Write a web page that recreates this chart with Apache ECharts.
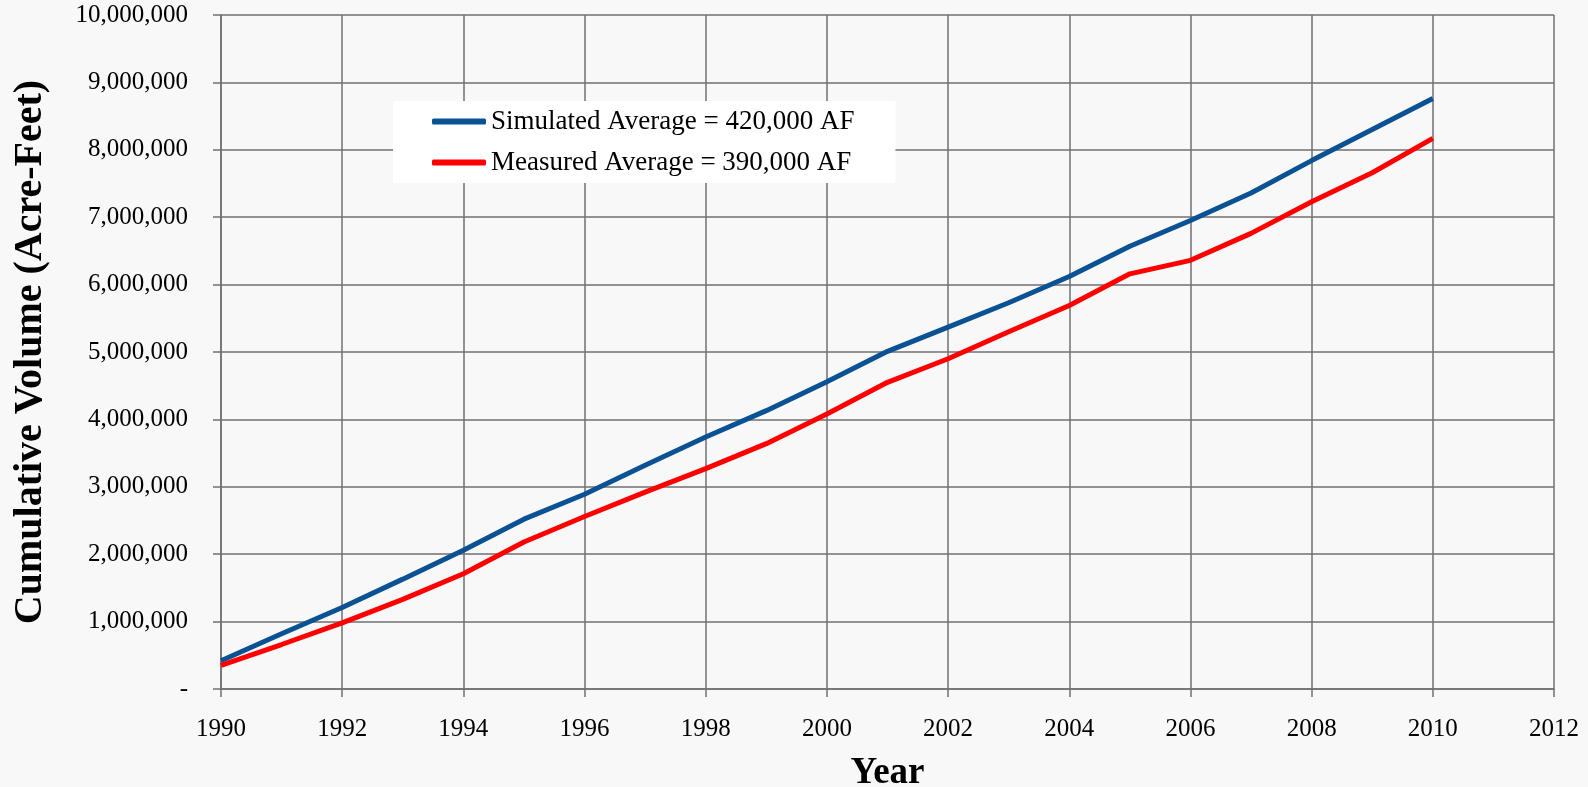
<!DOCTYPE html>
<html>
<head>
<meta charset="utf-8">
<script src="https://cdn.jsdelivr.net/npm/echarts@6/dist/echarts.min.js"></script>
<style>
html,body{margin:0;padding:0;background:#f8f8f8;}
#chart{width:1588px;height:787px;}
</style>
</head>
<body>
<div id="chart"></div>
<script>
// Data
var years = [1990,1991,1992,1993,1994,1995,1996,1997,1998,1999,2000,2001,2002,2003,2004,2005,2006,2007,2008,2009,2010];
var simulated = [420000,820000,1210000,1630000,2060000,2520000,2890000,3320000,3740000,4130000,4560000,5010000,5370000,5730000,6120000,6570000,6950000,7360000,7840000,8300000,8760000];
var measured = [350000,660000,980000,1330000,1710000,2180000,2560000,2920000,3270000,3640000,4080000,4550000,4900000,5300000,5690000,6160000,6360000,6760000,7230000,7660000,8170000];
var seriesNames = ['Simulated Average = 420,000 AF','Measured Average = 390,000 AF'];
var xTitle = 'Year';
var yTitle = 'Cumulative Volume (Acre-Feet)';

function pairs(xs, ys){ return xs.map(function(x,i){ return [x, ys[i]]; }); }

var gridColor = '#707070';
var font = '"Liberation Serif", "Times New Roman", serif';

var chart = echarts.init(document.getElementById('chart'), null, {renderer:'canvas'});
chart.setOption({
  backgroundColor: '#f8f8f8',
  animation: false,
  grid: {left: 221, right: 34, top: 15, bottom: 98, containLabel: false, outerBoundsMode: 'none'},
  legend: {
    orient: 'vertical',
    left: 393, top: 101,
    backgroundColor: '#ffffff',
    padding: [7, 41, 7, 39],
    itemWidth: 54, itemHeight: 6, itemGap: 14,
    icon: 'roundRect',
    textStyle: {fontFamily: font, fontSize: 27, color: '#000', lineHeight: 24},
    data: seriesNames
  },
  xAxis: {
    type: 'value', min: 1990, max: 2012, interval: 2,
    name: xTitle, nameLocation: 'middle', nameGap: 66,
    nameTextStyle: {fontFamily: font, fontSize: 37, fontWeight: 'bold', color: '#000'},
    axisLine: {show: true, onZero: false, lineStyle: {color: gridColor, width: 1.5}},
    axisTick: {show: true, length: 8, lineStyle: {color: gridColor, width: 1.5}},
    axisLabel: {fontFamily: font, fontSize: 25, color: '#000', margin: 28,
      formatter: function(v){ return String(v); }},
    splitLine: {show: true, lineStyle: {color: gridColor, width: 1.5}}
  },
  yAxis: {
    type: 'value', min: 0, max: 10000000, interval: 1000000,
    name: yTitle, nameLocation: 'middle', nameGap: 170, nameRotate: 90,
    nameTextStyle: {fontFamily: font, fontSize: 40, fontWeight: 'bold', color: '#000'},
    axisLine: {show: true, lineStyle: {color: gridColor, width: 1.5}},
    axisTick: {show: true, length: 8, lineStyle: {color: gridColor, width: 1.5}},
    axisLabel: {fontFamily: font, fontSize: 25, color: '#000', margin: 33,
      formatter: function(v){ return v === 0 ? '-' : v.toLocaleString('en-US'); }},
    splitLine: {show: true, lineStyle: {color: gridColor, width: 1.5}}
  },
  series: [
    {name: seriesNames[0], type: 'line', data: pairs(years, simulated), showSymbol: false, symbol: 'none',
     lineStyle: {color: '#0b5294', width: 5}, itemStyle: {color: '#0b5294'}, z: 3},
    {name: seriesNames[1], type: 'line', data: pairs(years, measured), showSymbol: false, symbol: 'none',
     lineStyle: {color: '#ff0000', width: 5}, itemStyle: {color: '#ff0000'}, z: 4}
  ]
});
</script>
</body>
</html>
